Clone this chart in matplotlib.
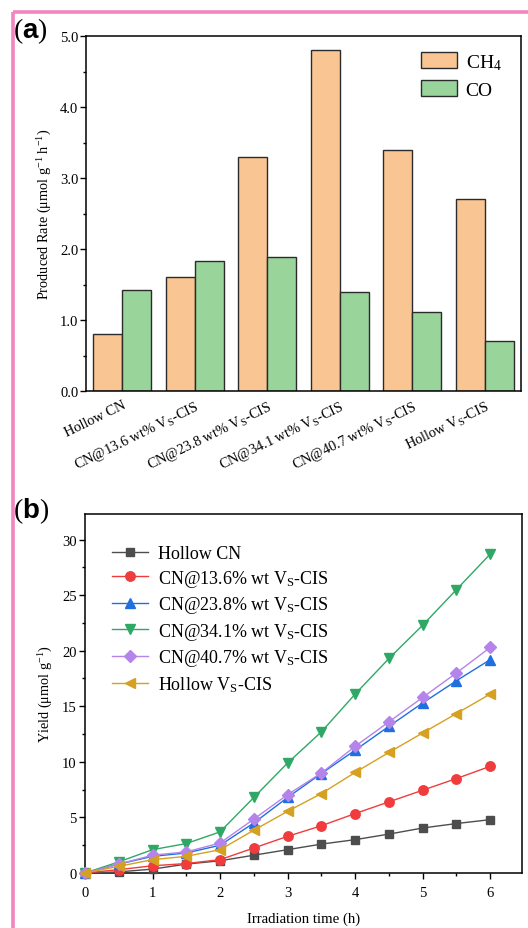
import matplotlib
matplotlib.use("Agg")
import matplotlib.pyplot as plt
from matplotlib.lines import Line2D
from matplotlib.ticker import MultipleLocator, FormatStrFormatter
from matplotlib.transforms import ScaledTranslation

plt.rcParams['font.family'] = ['Liberation Serif', 'DejaVu Serif']
plt.rcParams['mathtext.fontset'] = 'custom'
plt.rcParams['mathtext.rm'] = 'Liberation Serif'
plt.rcParams['mathtext.it'] = 'Liberation Serif:italic'
plt.rcParams['mathtext.bf'] = 'Liberation Serif:bold'
plt.rcParams['mathtext.sf'] = 'Liberation Sans:bold'

# ---- panel (a): production rates ----
samples = ["Hollow CN",
           r"CN@13.6 wt% V$_{\mathrm{S}}$-CIS",
           r"CN@23.8 wt% V$_{\mathrm{S}}$-CIS",
           r"CN@34.1 wt% V$_{\mathrm{S}}$-CIS",
           r"CN@40.7 wt% V$_{\mathrm{S}}$-CIS",
           r"Hollow V$_{\mathrm{S}}$-CIS"]
ch4_rate = [0.80, 1.60, 3.30, 4.80, 3.40, 2.70]
co_rate = [1.42, 1.83, 1.89, 1.40, 1.11, 0.70]

# ---- panel (b): yield vs. irradiation time ----
time_h = [0, 0.5, 1, 1.5, 2, 2.5, 3, 3.5, 4, 4.5, 5, 5.5, 6]
yield_hollow_cn = [0, 0.1, 0.35, 0.8, 1.1, 1.6, 2.1, 2.6, 3.0, 3.5, 4.05, 4.45, 4.8]
yield_cn136 = [0, 0.3, 0.65, 0.85, 1.2, 2.25, 3.3, 4.25, 5.35, 6.4, 7.45, 8.5, 9.6]
yield_cn238 = [0, 0.8, 1.5, 1.8, 2.5, 4.5, 6.8, 8.95, 11.05, 13.2, 15.3, 17.3, 19.2]
yield_cn341 = [0, 1.0, 2.1, 2.65, 3.7, 6.8, 9.9, 12.7, 16.1, 19.3, 22.3, 25.5, 28.7]
yield_cn407 = [0, 0.8, 1.6, 1.9, 2.7, 4.85, 7.05, 9.0, 11.4, 13.6, 15.8, 18.0, 20.3]
yield_hollow_vs = [0, 0.6, 1.2, 1.5, 2.1, 3.85, 5.55, 7.15, 9.05, 10.85, 12.6, 14.35, 16.1]

series_labels = ["Hollow CN",
                 r"CN@13.6% wt V$_{\mathrm{S}}$-CIS",
                 r"CN@23.8% wt V$_{\mathrm{S}}$-CIS",
                 r"CN@34.1% wt V$_{\mathrm{S}}$-CIS",
                 r"CN@40.7% wt V$_{\mathrm{S}}$-CIS",
                 r"Hollow V$_{\mathrm{S}}$-CIS"]

W, H = 528, 929
fig = plt.figure(figsize=(W / 100, H / 100), dpi=100)

def frac_rect(x0, y0, x1, y1):
    return [x0 / W, 1 - y1 / H, (x1 - x0) / W, (y1 - y0) / H]

def fig_pt(px, py):
    return (px / W, 1 - py / H)

# pink frame on the left and top edges
pink = '#f285c0'
fig.add_artist(Line2D([13 / W, 13 / W], [0, 1 - 13 / H], transform=fig.transFigure,
                      color=pink, lw=2.6, solid_capstyle='butt'))
fig.add_artist(Line2D([13 / W, 1], [1 - 13 / H, 1 - 13 / H], transform=fig.transFigure,
                      color=pink, lw=2.6, solid_capstyle='butt'))

# ---------------- (a) ----------------
ax1 = fig.add_axes(frac_rect(86, 37, 521, 392))
x = list(range(len(samples)))
bw = 0.4
ax1.bar([i - bw / 2 for i in x], ch4_rate, width=bw, color='#f9c592',
        edgecolor='#2b2b2b', linewidth=1.0, label=r'CH$_4$')
ax1.bar([i + bw / 2 for i in x], co_rate, width=bw, color='#99d59b',
        edgecolor='#2b2b2b', linewidth=1.0, label='CO')
ax1.set_xlim(-0.5, 5.5)
ax1.set_ylim(0, 5.0)
ax1.yaxis.set_major_locator(MultipleLocator(1.0))
ax1.yaxis.set_minor_locator(MultipleLocator(0.5))
ax1.yaxis.set_major_formatter(FormatStrFormatter('%.1f'))
ax1.set_xticks(x)
ax1.set_xticklabels(samples, rotation=26, ha='right', va='top',
                    rotation_mode='anchor', fontsize=10.4)
shift = ScaledTranslation(9 / 100, 0, fig.dpi_scale_trans)
for lab in ax1.get_xticklabels():
    lab.set_transform(lab.get_transform() + shift)
ax1.tick_params(axis='x', length=0, pad=5)
ax1.tick_params(axis='y', which='major', length=4, width=1, labelsize=10.5, pad=1.5)
ax1.tick_params(axis='y', which='minor', length=2.5, width=1)
for s in ax1.spines.values():
    s.set_linewidth(1.1)
ax1.set_ylabel(r'Produced Rate ($\mathrm{\mu}$mol g$^{\mathrm{-1}}$ h$^{\mathrm{-1}}$)',
               fontsize=10.3, labelpad=4)
ax1.legend(loc='upper left', bbox_to_anchor=fig_pt(421, 53),
           bbox_transform=fig.transFigure, frameon=False, fontsize=14,
           handlelength=1.85, handleheight=0.9, handletextpad=0.45,
           labelspacing=0.42, borderpad=0, borderaxespad=0)

# ---------------- (b) ----------------
ax2 = fig.add_axes(frac_rect(85, 515, 522, 874))
styles = [
    (yield_hollow_cn, '#4d4d4d', 's', 5.8),
    (yield_cn136, '#f03c3c', 'o', 6.8),
    (yield_cn238, '#1f6fe0', '^', 6.8),
    (yield_cn341, '#2fa866', 'v', 6.8),
    (yield_cn407, '#b484ea', 'D', 5.8),
    (yield_hollow_vs, '#d6a020', '<', 6.8),
]
for (vals, col, mk, ms), lab in zip(styles, series_labels):
    ax2.plot(time_h, vals, color=col, marker=mk, markersize=ms, lw=1.0,
             label=lab, clip_on=False, zorder=3)
ax2.set_xlim(0, 6.47)
ax2.set_ylim(0, 32.3)
ax2.xaxis.set_major_locator(MultipleLocator(1))
ax2.xaxis.set_minor_locator(MultipleLocator(0.5))
ax2.yaxis.set_major_locator(MultipleLocator(5))
ax2.yaxis.set_minor_locator(MultipleLocator(2.5))
ax2.tick_params(which='major', length=4, width=1, labelsize=10.5)
ax2.tick_params(axis='x', which='major', pad=5.5)
ax2.tick_params(axis='y', which='major', pad=2)
ax2.tick_params(which='minor', length=2.5, width=1)
for s in ax2.spines.values():
    s.set_linewidth(1.1)
ax2.set_xlabel('Irradiation time (h)', fontsize=10.6, labelpad=9)
ax2.set_ylabel(r'Yield ($\mathrm{\mu}$mol g$^{\mathrm{-1}}$)', fontsize=10.3, labelpad=5)
ax2.legend(loc='upper left', bbox_to_anchor=fig_pt(112, 546),
           bbox_transform=fig.transFigure, frameon=False, fontsize=13,
           handlelength=2.0, handletextpad=0.55, labelspacing=0.31,
           borderpad=0, borderaxespad=0)

# panel letters: serif parentheses around a bold sans letter
fig.text(*fig_pt(13, 38), r'($\mathsf{a}$)', fontsize=20, va='baseline', ha='left')
fig.text(*fig_pt(13, 518), r'($\mathsf{b}$)', fontsize=20, va='baseline', ha='left')

fig.savefig('out.png', dpi=100)
